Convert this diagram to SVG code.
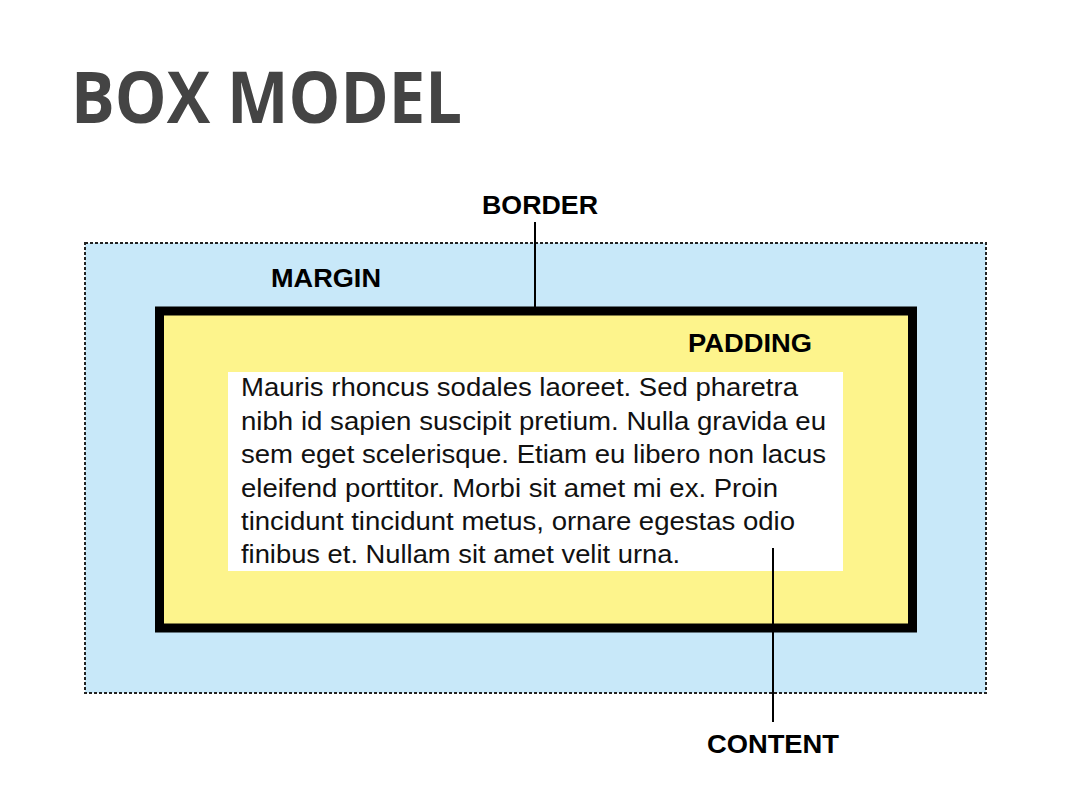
<svg xmlns="http://www.w3.org/2000/svg" width="1080" height="798" viewBox="0 0 1080 798">
<style>
.lbl{font-family:"Liberation Sans",Arial,sans-serif;font-weight:bold;font-size:26px;fill:#000}
.body{font-family:"Liberation Sans",Arial,sans-serif;font-size:25.5px;fill:#111}
.conn{stroke:#000;stroke-width:2;fill:none}
</style>
<rect x="0" y="0" width="1080" height="798" fill="#fff"/>
<text id="title" x="71" y="123" font-family="'Open Sans',sans-serif" font-weight="bold" font-size="71" fill="#444" textLength="391" lengthAdjust="spacingAndGlyphs">BOX MODEL</text>
<g id="margin">
<rect x="85" y="243" width="901" height="450" fill="#c8e8f9" stroke="#222" stroke-width="2" stroke-dasharray="3 2"/>
<text class="lbl" x="271" y="287" textLength="110" lengthAdjust="spacingAndGlyphs">MARGIN</text>
</g>
<g id="border">
<rect x="159.5" y="311" width="753" height="317" fill="#fdf48c" stroke="#000" stroke-width="9"/>
<text class="lbl" x="482" y="214" textLength="116" lengthAdjust="spacingAndGlyphs">BORDER</text>
</g>
<g id="padding">
<text class="lbl" x="688" y="352" textLength="124" lengthAdjust="spacingAndGlyphs">PADDING</text>
</g>
<g id="content">
<rect x="228" y="372" width="615" height="199" fill="#fff"/>
<text class="body" x="241" y="396" textLength="557" lengthAdjust="spacingAndGlyphs">Mauris rhoncus sodales laoreet. Sed pharetra</text>
<text class="body" x="241" y="429.5" textLength="585" lengthAdjust="spacingAndGlyphs">nibh id sapien suscipit pretium. Nulla gravida eu</text>
<text class="body" x="241" y="463" textLength="585" lengthAdjust="spacingAndGlyphs">sem eget scelerisque. Etiam eu libero non lacus</text>
<text class="body" x="241" y="496.5" textLength="537" lengthAdjust="spacingAndGlyphs">eleifend porttitor. Morbi sit amet mi ex. Proin</text>
<text class="body" x="241" y="530" textLength="554" lengthAdjust="spacingAndGlyphs">tincidunt tincidunt metus, ornare egestas odio</text>
<text class="body" x="241" y="563" textLength="439" lengthAdjust="spacingAndGlyphs">finibus et. Nullam sit amet velit urna.</text>
<text class="lbl" x="707" y="753" textLength="132" lengthAdjust="spacingAndGlyphs">CONTENT</text>
</g>
<g id="connectors">
<line class="conn" x1="535" y1="222" x2="535" y2="307"/>
<line class="conn" x1="773" y1="548" x2="773" y2="722"/>
</g>
</svg>
